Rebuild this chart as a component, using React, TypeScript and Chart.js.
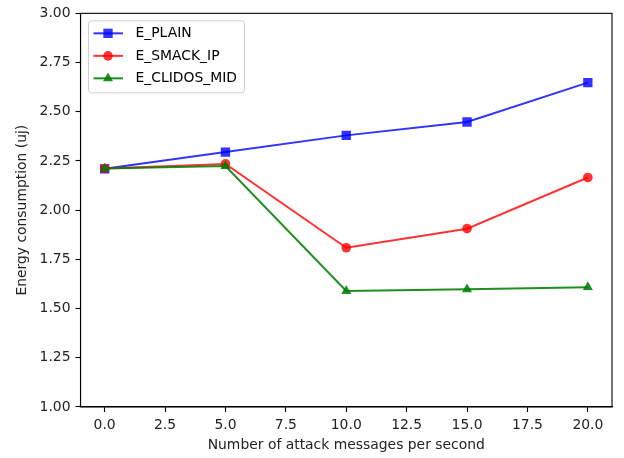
import React, { useEffect, useRef } from "react";
import { Chart, registerables } from "chart.js";

Chart.register(...registerables);

const xValues = [0, 5, 10, 15, 20];
const ePlain = [2.21, 2.295, 2.38, 2.448, 2.648];
const eSmackIp = [2.212, 2.235, 1.809, 1.906, 2.166];
const eClidosMid = [2.212, 2.224, 1.589, 1.598, 1.609];
const seriesNames = ["E_PLAIN", "E_SMACK_IP", "E_CLIDOS_MID"];
const xTickValues = [0, 2.5, 5, 7.5, 10, 12.5, 15, 17.5, 20];
const yTickValues = [1.0, 1.25, 1.5, 1.75, 2.0, 2.25, 2.5, 2.75, 3.0];
const xAxisTitle = "Number of attack messages per second";
const yAxisTitle = "Energy consumption (uj)";

const FONT = "'DejaVu Sans', sans-serif";
const FS = 13.9;

const colors = ["rgba(0,0,255,0.8)", "rgba(255,0,0,0.8)", "rgba(0,128,0,0.88)"];
const styles = ["rect", "circle", "triangle"];
const radii = [6.6, 4.8, 5.8];

function drawMarker(ctx: CanvasRenderingContext2D, style: string, x: number, y: number, r: number) {
  ctx.beginPath();
  if (style === "rect") {
    const s = Math.SQRT1_2 * r;
    ctx.rect(x - s, y - s, 2 * s, 2 * s);
  } else if (style === "circle") {
    ctx.arc(x, y, r, 0, Math.PI * 2);
  } else {
    let rad = 0;
    ctx.moveTo(x + Math.sin(rad) * r, y - Math.cos(rad) * r);
    rad += (2 * Math.PI) / 3;
    ctx.lineTo(x + Math.sin(rad) * r, y - Math.cos(rad) * r);
    rad += (2 * Math.PI) / 3;
    ctx.lineTo(x + Math.sin(rad) * r, y - Math.cos(rad) * r);
    ctx.closePath();
  }
  ctx.fill();
}

const framePlugin = {
  id: "frameAndLegend",
  afterDraw(chart: any) {
    const { ctx, chartArea } = chart;
    const { left, top, right, bottom } = chartArea;
    ctx.save();
    ctx.strokeStyle = "#000";
    ctx.lineWidth = 1.1;
    ctx.strokeRect(left, top, right - left, bottom - top);

    // legend
    const bx = left + 8;
    const by = top + 7.5;
    const bw = 156;
    const bh = 72;
    const rr = 3;
    ctx.beginPath();
    ctx.moveTo(bx + rr, by);
    ctx.lineTo(bx + bw - rr, by);
    ctx.quadraticCurveTo(bx + bw, by, bx + bw, by + rr);
    ctx.lineTo(bx + bw, by + bh - rr);
    ctx.quadraticCurveTo(bx + bw, by + bh, bx + bw - rr, by + bh);
    ctx.lineTo(bx + rr, by + bh);
    ctx.quadraticCurveTo(bx, by + bh, bx, by + bh - rr);
    ctx.lineTo(bx, by + rr);
    ctx.quadraticCurveTo(bx, by, bx + rr, by);
    ctx.closePath();
    ctx.fillStyle = "rgba(255,255,255,0.8)";
    ctx.fill();
    ctx.strokeStyle = "#d0d0d0";
    ctx.lineWidth = 1;
    ctx.stroke();

    chart.data.datasets.forEach((ds: any, i: number) => {
      const cy = by + 12.5 + i * 22.5;
      ctx.strokeStyle = ds.borderColor;
      ctx.lineWidth = 2;
      ctx.beginPath();
      ctx.moveTo(bx + 5, cy);
      ctx.lineTo(bx + 34.5, cy);
      ctx.stroke();
      ctx.fillStyle = ds.borderColor;
      drawMarker(ctx, ds.pointStyle, bx + 19.5, cy, ds.pointRadius);
      ctx.fillStyle = "#000";
      ctx.font = `${FS}px ${FONT}`;
      ctx.textBaseline = "middle";
      ctx.textAlign = "left";
      ctx.fillText(ds.label, bx + 47, cy + 0.5);
    });
    ctx.restore();
  },
};

export default function App() {
  const ref = useRef<HTMLCanvasElement | null>(null);

  useEffect(() => {
    if (!ref.current) return;
    const series = [ePlain, eSmackIp, eClidosMid];
    const chart = new Chart(ref.current, {
      type: "line",
      data: {
        datasets: series.map((vals, i) => ({
          label: seriesNames[i],
          data: xValues.map((x, j) => ({ x, y: vals[j] })),
          borderColor: colors[i],
          backgroundColor: colors[i],
          pointBackgroundColor: colors[i],
          pointBorderColor: colors[i],
          pointBorderWidth: 0,
          pointStyle: styles[i] as any,
          pointRadius: radii[i],
          borderWidth: 2,
          tension: 0,
          fill: false,
          order: 3 - i,
        })),
      },
      options: {
        responsive: false,
        animation: false,
        events: [],
        layout: { padding: { left: 0, right: 12, top: 12.5, bottom: 0 } },
        plugins: {
          legend: { display: false },
          tooltip: { enabled: false },
        },
        scales: {
          x: {
            type: "linear",
            min: -1,
            max: 21,
            afterBuildTicks: (scale: any) => {
              scale.ticks = xTickValues.map((v) => ({ value: v }));
            },
            afterFit: (scale: any) => {
              scale.height = 51;
            },
            grid: { display: true, drawOnChartArea: false, drawTicks: true, tickLength: 5, color: "#000", tickWidth: 1.1 },
            border: { display: true, color: "#000", width: 1.1 },
            ticks: {
              color: "#222",
              font: { family: FONT, size: FS },
              padding: 5,
              maxRotation: 0,
              autoSkip: false,
              callback: (v: any) => Number(v).toFixed(1),
            },
            title: {
              display: true,
              text: xAxisTitle,
              color: "#222",
              font: { family: FONT, size: FS },
              padding: { top: 4.5, bottom: 4.5 },
            },
          },
          y: {
            type: "linear",
            min: 1,
            max: 3,
            afterBuildTicks: (scale: any) => {
              scale.ticks = yTickValues.map((v) => ({ value: v }));
            },
            afterFit: (scale: any) => {
              scale.width = 80.5;
            },
            grid: { display: true, drawOnChartArea: false, drawTicks: true, tickLength: 5, color: "#000", tickWidth: 1.1 },
            border: { display: true, color: "#000", width: 1.1 },
            ticks: {
              color: "#222",
              font: { family: FONT, size: FS },
              padding: 5,
              autoSkip: false,
              callback: (v: any) => Number(v).toFixed(2),
            },
            title: {
              display: true,
              text: yAxisTitle,
              color: "#222",
              font: { family: FONT, size: FS },
              padding: { top: 14.5, bottom: 14.5 },
            },
          },
        },
      },
      plugins: [framePlugin],
    });
    return () => chart.destroy();
  }, []);

  return (
    <div style={{ position: "absolute", left: 0, top: 0, width: 624, height: 458, background: "#fff" }}>
      <canvas ref={ref} width={624} height={458} />
    </div>
  );
}
